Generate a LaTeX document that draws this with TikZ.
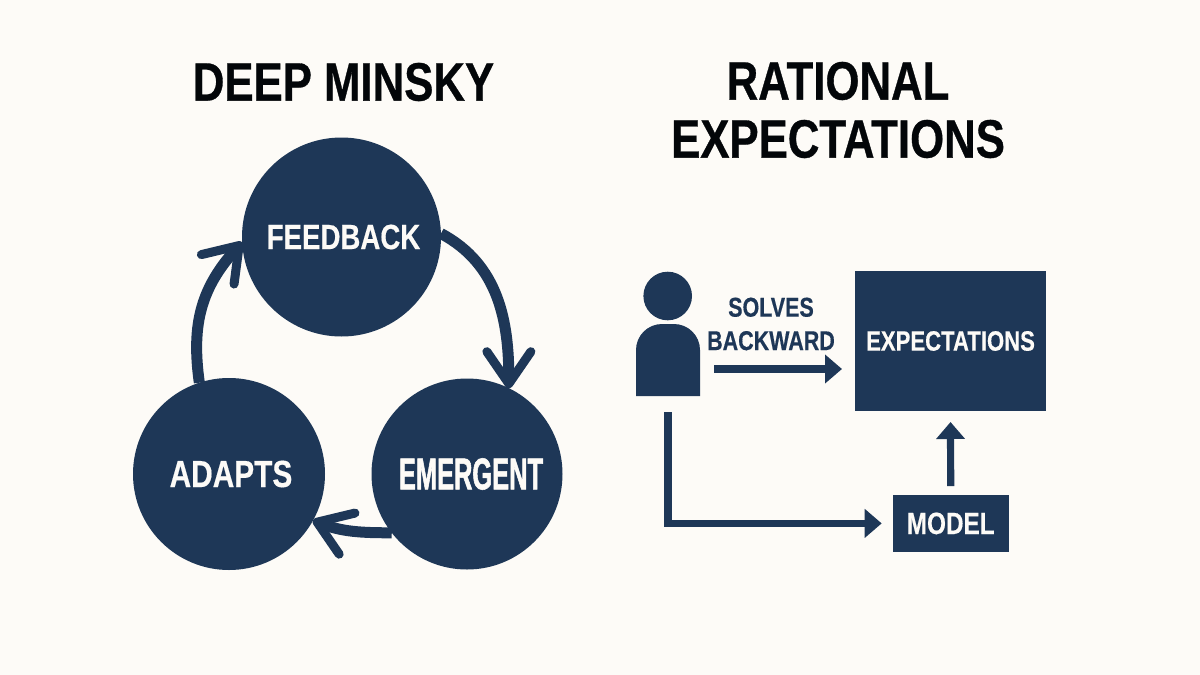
\documentclass[tikz,border=0pt]{standalone}
\usepackage{fontspec}
\usetikzlibrary{arrows.meta}
\setmainfont{Liberation Sans}
\newfontfamily\normalcut[FakeStretch=0.79,FakeBold=0.4]{Liberation Sans Bold}
\newfontfamily\titlecut[FakeStretch=0.81,FakeBold=0.6]{Liberation Sans Bold}
\newfontfamily\tallcut[FakeStretch=0.57,FakeBold=1.2]{Liberation Sans Bold}
\definecolor{navy}{HTML}{1E3757}
\definecolor{paper}{HTML}{FDFBF7}
\tikzset{
  hub/.style={circle,fill=navy,text=paper,inner sep=0pt,outer sep=0pt},
  box/.style={rectangle,fill=navy,text=paper,inner sep=0pt,outer sep=0pt},
  heading/.style={text=black!90!navy,align=center,inner sep=0pt,font=\titlecut\fontsize{27}{29}\selectfont},
  loopline/.style={draw=navy,line width=5.5pt,
    -{Straight Barb[length=16pt,width=22pt,line width=4.5pt,round]}},
  flowline/.style={draw=navy,line width=3.6pt,-{Triangle[length=8.5pt,width=14pt]}},
}
\begin{document}
\begin{tikzpicture}[x=0.5pt,y=-0.5pt]
\fill[paper] (0,0) rectangle (1200,675);
\useasboundingbox (0,0) rectangle (1200,675);
% left side
\node[heading] (minskytitle) at (343.5,82) {DEEP MINSKY};
\node[hub,minimum size=99.5pt,font=\normalcut\fontsize{17.5}{20}\selectfont] (feedback) at (341.5,237) {\kern2pt FEEDBACK};
\node[hub,minimum size=95.5pt,font=\tallcut\fontsize{22.3}{24}\selectfont] (emergent) at (467,474) {\kern4pt\raisebox{-1pt}{EMERGENT}};
\node[hub,minimum size=96pt,font=\normalcut\fontsize{18.9}{21}\selectfont] (adapts) at (229,474) {\kern2pt ADAPTS};
\draw[loopline] (feedback.2) to[out=-28,in=90,looseness=1.0] (emergent.64);
\draw[loopline] (emergent.218) to[out=180,in=-21] (adapts.-29);
\draw[loopline] (adapts.108) to[out=98,in=228,looseness=1.05] (feedback.183);
% right side
\node[heading] (rationaltitle) at (838,110) {RATIONAL\\EXPECTATIONS};
\node[circle,fill=navy,minimum size=24.3pt,inner sep=0pt] (personhead) at (667.7,296) {};
\node[rectangle,minimum width=32pt,minimum height=36pt,inner sep=0pt,outer sep=0pt] (personbody) at (668,360) {};
\fill[navy] (personbody.south west) [rounded corners=13pt] -- (personbody.north west)
  -- (personbody.north east) [sharp corners] -- (personbody.south east) -- cycle;
\node[box,minimum width=95.5pt,minimum height=70pt,font=\normalcut\fontsize{14}{16}\selectfont] (expectbox) at (950.5,341) {EXPECTATIONS};
\node[box,minimum width=58pt,minimum height=28.7pt,font=\normalcut\fontsize{15.4}{17}\selectfont] (modelbox) at (950.7,523.4) {MODEL};
\node[text=navy,align=center,inner sep=0pt,font=\normalcut\fontsize{13.6}{16.7}\selectfont] (solveslabel) at (771,324) {SOLVES\\BACKWARD};
\draw[flowline,shorten <=7pt,shorten >=6.5pt] ([yshift=-4.5pt]personbody.east) -- ([yshift=-14pt]expectbox.west);
\draw[flowline,shorten <=8pt,shorten >=5.5pt] (personbody.south) |- (modelbox.west);
\draw[flowline,shorten <=4.3pt,shorten >=5.5pt] (modelbox.north) -- (expectbox.south);
\end{tikzpicture}
\end{document}
